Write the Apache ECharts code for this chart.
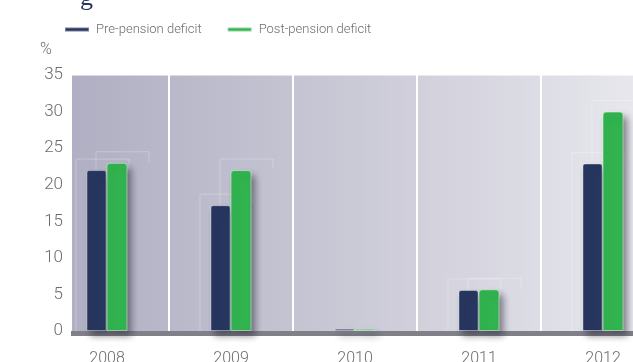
<!DOCTYPE html>
<html>
<head>
<meta charset="utf-8">
<style>
  html, body { margin: 0; padding: 0; background: #ffffff; }
  #chart { width: 633px; height: 362px; }
</style>
<script src="https://cdn.jsdelivr.net/npm/echarts@6/dist/echarts.min.js"></script>
</head>
<body>
<div id="chart"></div>
<script>
// Deficit figures by year, in percent
const years = ['2008', '2009', '2010', '2011', '2012'];
const prePension = [22, 17.2, 0.3, 5.6, 22.9];
const postPension = [23, 22, 0.3, 5.7, 30];
const yTicks = [0, 5, 10, 15, 20, 25, 30, 35];

const NAVY = '#27365f';
const GREEN = '#31b44f';
const TEXT = '#6c6c70';
const FONT = 'Roboto, "Liberation Sans", Arial, sans-serif';

const GRID = { left: 45, top: 75, width: 620, height: 256, outerBoundsMode: 'none', containLabel: false };
const PLOT_LEFT = 72;

const chart = echarts.init(document.getElementById('chart'), null, { renderer: 'canvas' });

// Faint frame drawn behind each bar, a little above and to the left of its top
function frameSeries(values, shift) {
  return {
    type: 'custom',
    z: 1,
    silent: true,
    data: values.map((v, i) => [i, v]),
    renderItem(params, api) {
      const v = api.value(1);
      if (v < 1) return null;
      const c = api.coord([api.value(0), v]);
      const base = api.coord([api.value(0), 0]);
      const x0 = c[0] + shift - 21;
      const x1 = c[0] + shift + 32;
      const y0 = c[1] - 11;
      return {
        type: 'polyline',
        shape: { points: [[x0, base[1]], [x0, y0], [x1, y0], [x1, y0 + 10]] },
        style: { stroke: 'rgba(255,255,255,0.25)', lineWidth: 1, fill: null }
      };
    }
  };
}

const barShadow = {
  shadowColor: 'rgba(40,40,55,0.55)',
  shadowBlur: 7,
  shadowOffsetX: 4,
  shadowOffsetY: 5
};

chart.setOption({
  animation: false,
  textStyle: { fontFamily: FONT },
  title: [
    {
      text: 'g',
      left: 75, top: -20,
      textStyle: { fontFamily: '"Liberation Serif", "DejaVu Serif", serif', fontSize: 26, color: NAVY, fontWeight: 'normal' }
    },
    {
      text: '%',
      left: 35, top: 37,
      textStyle: { fontFamily: FONT, fontSize: 16, color: TEXT, fontWeight: 300 }
    }
  ],
  legend: {
    left: 59, top: 18,
    itemWidth: 24, itemHeight: 4,
    itemGap: 25,
    icon: 'rect',
    textStyle: { fontFamily: FONT, fontSize: 13, color: TEXT, fontWeight: 300, padding: [0, 0, 0, 2] },
    data: ['Pre-pension deficit', 'Post-pension deficit']
  },
  graphic: [
    {
      type: 'rect', z: -10, silent: true,
      shape: { x: PLOT_LEFT, y: GRID.top, width: 633 - PLOT_LEFT, height: GRID.height },
      style: {
        fill: new echarts.graphic.LinearGradient(0, 0, 1, 0, [
          { offset: 0, color: '#b0afc3' },
          { offset: 0.5, color: '#cac9d6' },
          { offset: 1, color: '#e7e7ed' }
        ])
      }
    },
    {
      type: 'rect', z: -5, silent: true,
      shape: { x: PLOT_LEFT, y: GRID.top, width: 633 - PLOT_LEFT, height: 1 },
      style: { fill: 'rgba(255,255,255,0.5)' }
    },
    {
      type: 'rect', z: 0, silent: true,
      shape: { x: PLOT_LEFT - 1, y: GRID.top + GRID.height, width: 633 - PLOT_LEFT + 1, height: 5 },
      style: { fill: '#7f8088' }
    }
  ],
  grid: GRID,
  xAxis: {
    type: 'category',
    data: years,
    axisLine: { show: false },
    axisTick: { show: false },
    axisLabel: { color: TEXT, fontSize: 16, fontWeight: 300, margin: 20 },
    splitLine: { show: true, lineStyle: { color: '#ffffff', width: 2 } }
  },
  yAxis: {
    type: 'value',
    min: yTicks[0],
    max: yTicks[yTicks.length - 1],
    interval: 5,
    offset: -19,
    axisLine: { show: false },
    axisTick: { show: false },
    splitLine: { show: false },
    axisLabel: { color: TEXT, fontSize: 17, fontWeight: 300, margin: 1 }
  },
  series: [
    frameSeries(prePension, -10),
    frameSeries(postPension, 10),
    {
      name: 'Pre-pension deficit',
      type: 'bar',
      z: 3,
      data: prePension,
      barWidth: 20,
      barGap: '0%',
      itemStyle: Object.assign({ color: NAVY, borderRadius: [2, 2, 0, 0], borderColor: 'rgba(255,255,255,0.35)', borderWidth: 1 }, barShadow)
    },
    {
      name: 'Post-pension deficit',
      type: 'bar',
      z: 3,
      data: postPension,
      barWidth: 21,
      itemStyle: Object.assign({ color: GREEN, borderRadius: [3, 3, 0, 0], borderColor: 'rgba(255,255,255,0.45)', borderWidth: 1 }, barShadow)
    }
  ]
});
</script>
</body>
</html>
